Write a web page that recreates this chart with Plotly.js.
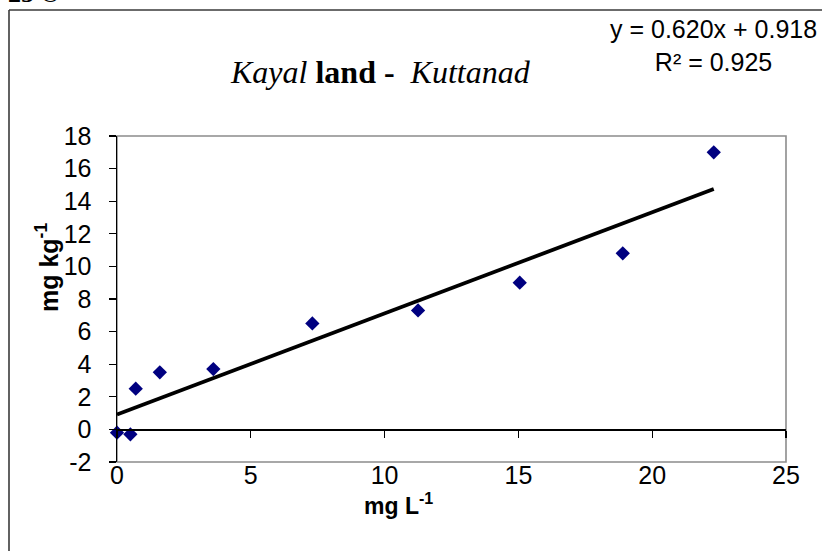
<!DOCTYPE html>
<html>
<head>
<meta charset="utf-8">
<script src="https://cdn.plot.ly/plotly-3.0.1.min.js"></script>
<style>
html, body { margin: 0; padding: 0; background: #ffffff; }
#chart { width: 822px; height: 551px; }
</style>
</head>
<body>
<div id="chart"></div>
<script>
// ---- Data ----
const concL = [0, 0.5, 0.7, 1.6, 3.6, 7.3, 11.25, 15.05, 18.9, 22.3];   // mg L-1
const concKg = [-0.2, -0.3, 2.5, 3.5, 3.7, 6.5, 7.3, 9.0, 10.8, 17.0]; // mg kg-1
const trendSlope = 0.620;
const trendIntercept = 0.918;
const rSquared = 0.925;
const xTicks = [0, 5, 10, 15, 20, 25];
const yTicks = [-2, 0, 2, 4, 6, 8, 10, 12, 14, 16, 18];

// ---- Trendline from the equation over the data range ----
const xMin = Math.min(...concL);
const xMax = Math.max(...concL);
const trendX = [xMin, xMax];
const trendY = trendX.map(v => trendSlope * v + trendIntercept);

const W = 822, H = 551;
const mL = 117, mR = 36, mT = 136, mB = 89;
const pw = W - mL - mR, ph = H - mT - mB;
const px = x => (x - mL) / pw;
const py = y => (H - mB - y) / ph;

const traces = [
  {
    x: trendX, y: trendY, mode: 'lines', type: 'scatter',
    line: { color: '#000000', width: 3.8 },
    hoverinfo: 'skip', showlegend: false, cliponaxis: false
  },
  {
    x: concL, y: concKg, mode: 'markers', type: 'scatter',
    marker: { symbol: 'diamond', size: 11, color: '#000080', line: { width: 0 } },
    showlegend: false, cliponaxis: false
  },
  {
    // carrier for the axis drawn along y = 0
    x: concL, y: concKg, xaxis: 'x2', mode: 'markers', type: 'scatter',
    marker: { opacity: 0, size: 1 }, hoverinfo: 'skip', showlegend: false
  }
];

const tickFont = { family: 'Arial, "Liberation Sans", sans-serif', size: 25, color: '#000000' };

const layout = {
  width: W, height: H,
  margin: { l: mL, r: mR, t: mT, b: mB, pad: 0 },
  paper_bgcolor: '#ffffff', plot_bgcolor: '#ffffff',
  showlegend: false,
  xaxis: {
    range: [0, 25], tickvals: xTicks, ticktext: xTicks.map(String),
    ticks: '', showline: false, showgrid: false, zeroline: false,
    tickfont: tickFont, ticklabelstandoff: -4, fixedrange: true
  },
  xaxis2: {
    overlaying: 'x', matches: 'x', anchor: 'free', position: 0.1,
    range: [0, 25], tickvals: xTicks, showticklabels: false,
    ticks: 'outside', ticklen: 7, tickwidth: 1.3, tickcolor: '#000000',
    showline: true, linecolor: '#000000', linewidth: 1.5,
    showgrid: false, zeroline: false, fixedrange: true
  },
  yaxis: {
    range: [-2, 18], tickvals: yTicks, ticktext: yTicks.map(String),
    ticks: 'outside', ticklen: 7, tickwidth: 1.3, tickcolor: '#000000',
    showline: true, linecolor: '#000000', linewidth: 1.5,
    showgrid: false, zeroline: false, tickfont: tickFont,
    ticklabelstandoff: 12, fixedrange: true
  },
  shapes: [
    // plot-area box (gray)
    { type: 'rect', xref: 'paper', yref: 'paper', x0: 0, x1: 1, y0: 0, y1: 1,
      line: { color: '#8c8c8c', width: 1.6 }, layer: 'below' },
    // outer frame: left and top edges
    { type: 'line', xref: 'paper', yref: 'paper', x0: px(9), x1: px(9), y0: py(10), y1: py(560),
      line: { color: '#3a3a3a', width: 1.6 } },
    { type: 'line', xref: 'paper', yref: 'paper', x0: px(9), x1: px(830), y0: py(10), y1: py(10),
      line: { color: '#3a3a3a', width: 1.6 } }
  ],
  annotations: [
    {
      xref: 'paper', yref: 'paper', x: px(380), y: py(72), xanchor: 'center', yanchor: 'middle',
      showarrow: false,
      text: '<i>Kayal</i>\u00a0<b>land -</b>\u00a0\u00a0<i>Kuttanad</i>',
      font: { family: '"Liberation Serif", "Times New Roman", serif', size: 32, color: '#000000' }
    },
    {
      xref: 'paper', yref: 'paper', x: px(819), y: py(45), xanchor: 'right', yanchor: 'middle',
      align: 'center', showarrow: false,
      text: 'y = ' + trendSlope.toFixed(3) + 'x + ' + trendIntercept.toFixed(3) +
            '<br>R\u00b2 = ' + rSquared.toFixed(3),
      font: { family: 'Arial, "Liberation Sans", sans-serif', size: 25, color: '#000000' }
    },
    {
      xref: 'paper', yref: 'paper', x: px(47), y: py(268), xanchor: 'center', yanchor: 'middle',
      textangle: -90, showarrow: false,
      text: '<b>mg kg<sup>-1</sup></b>',
      font: { family: 'Arial, "Liberation Sans", sans-serif', size: 25, color: '#000000' }
    },
    {
      xref: 'paper', yref: 'paper', x: px(398), y: py(504), xanchor: 'center', yanchor: 'middle',
      showarrow: false,
      text: '<b>mg L<sup>-1</sup></b>',
      font: { family: 'Arial, "Liberation Sans", sans-serif', size: 23, color: '#000000' }
    },
    {
      xref: 'paper', yref: 'paper', x: px(6), y: py(10), xanchor: 'left', yanchor: 'bottom',
      showarrow: false, text: '<b>25 \u00a9</b>',
      font: { family: '"Liberation Serif", "Times New Roman", serif', size: 26, color: '#000000' }
    }
  ]
};

Plotly.newPlot('chart', traces, layout, { staticPlot: true, displayModeBar: false });
</script>
</body>
</html>
